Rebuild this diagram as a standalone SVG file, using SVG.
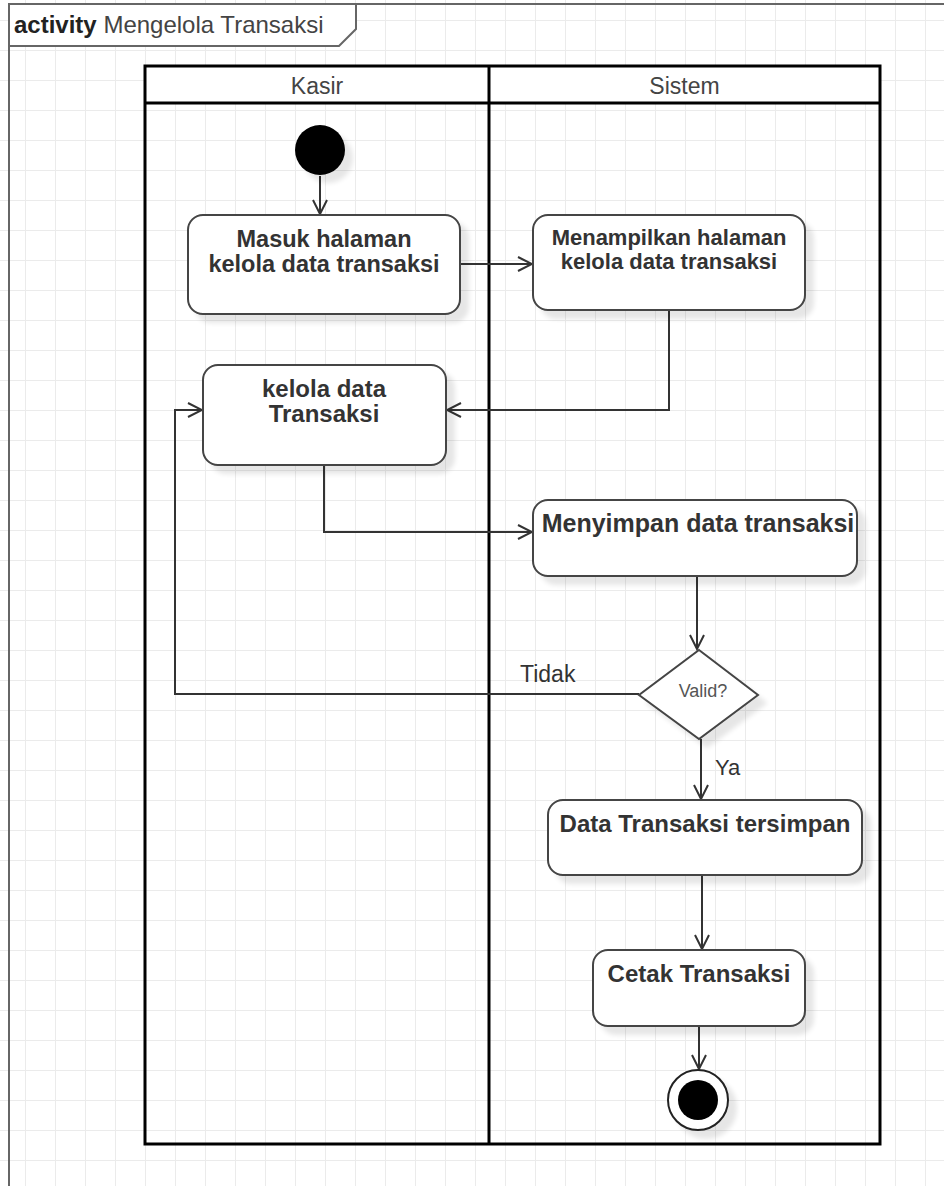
<svg xmlns="http://www.w3.org/2000/svg" width="944" height="1186" viewBox="0 0 944 1186">
  <defs>
    <pattern id="grid" x="25" y="20" width="30" height="30" patternUnits="userSpaceOnUse">
      <path d="M0 0.5 H30 M0.5 0 V30" fill="none" stroke="#ebebeb" stroke-width="1"/>
    </pattern>
    <filter id="shadow" x="-10%" y="-10%" width="130%" height="140%">
      <feGaussianBlur in="SourceAlpha" stdDeviation="2.5"/>
      <feOffset dx="8" dy="8" result="off"/>
      <feComponentTransfer><feFuncA type="linear" slope="0.1"/></feComponentTransfer>
      <feMerge><feMergeNode/><feMergeNode in="SourceGraphic"/></feMerge>
    </filter>
    <marker id="open" viewBox="-16 -10 18 20" refX="0" refY="0" markerWidth="18" markerHeight="20" markerUnits="userSpaceOnUse" orient="auto">
      <path d="M-14,-7 L0,0 L-14,7" fill="none" stroke="#333" stroke-width="2"/>
    </marker>
    <style>
      .lbl { font-family: "Liberation Sans", Arial, sans-serif; fill: #333; }
      .act { font-family: "Liberation Sans", Arial, sans-serif; font-weight: bold; fill: #333; text-anchor: middle; }
      .box { fill: #fff; stroke: #444; stroke-width: 2; }
      .edge { fill: none; stroke: #333; stroke-width: 2; marker-end: url(#open); }
      .lane { fill: none; stroke: #000; stroke-width: 3; }
    </style>
  </defs>

  <!-- canvas with grid -->
  <rect width="944" height="1186" fill="#fff"/>
  <rect width="944" height="1186" fill="url(#grid)"/>

  <!-- activity frame -->
  <g id="frame">
    <path d="M9,1186 V4 H944" fill="none" stroke="#666" stroke-width="2"/>
    <path d="M9,4 H356 V29 L339,46 H9 Z" fill="#fff" stroke="#666" stroke-width="2"/>
    <text x="14" y="33" class="lbl" font-size="24"><tspan font-weight="bold" fill="#222">activity</tspan><tspan fill="#444"> Mengelola Transaksi</tspan></text>
  </g>

  <!-- swimlane pool -->
  <g id="pool">
    <rect x="145" y="66" width="735" height="37" fill="#fff"/>
    <rect x="145" y="66" width="735" height="1078" class="lane"/>
    <path d="M145,103 H880 M489,66 V1144" class="lane"/>
    <text x="317" y="94" class="lbl" font-size="23" text-anchor="middle" style="fill:#444">Kasir</text>
    <text x="684.5" y="94" class="lbl" font-size="23" text-anchor="middle" style="fill:#444">Sistem</text>
  </g>

  <!-- connectors -->
  <g id="connectors">
    <path d="M320,176 V214" class="edge"/>
    <path d="M460,264 H532" class="edge"/>
    <path d="M669,310 V410 H447" class="edge"/>
    <path d="M324,465 V532 H532" class="edge"/>
    <path d="M697,576 V649" class="edge"/>
    <path d="M639,694 H175 V410 H202" class="edge"/>
    <path d="M701,739 V799" class="edge"/>
    <path d="M702,875 V949" class="edge"/>
    <path d="M699,1026 V1069" class="edge"/>
    <text x="520" y="682" class="lbl" font-size="23">Tidak</text>
    <text x="715" y="775" class="lbl" font-size="22">Ya</text>
  </g>

  <!-- nodes -->
  <g id="start">
    <circle cx="320" cy="150" r="25" fill="#000" filter="url(#shadow)"/>
  </g>

  <g id="masuk-halaman">
    <rect x="188" y="215" width="272" height="99" rx="15" class="box" filter="url(#shadow)"/>
    <text class="act" font-size="23.5"><tspan x="324" y="247">Masuk halaman</tspan><tspan x="324" y="272">kelola data transaksi</tspan></text>
  </g>

  <g id="menampilkan-halaman">
    <rect x="533" y="215" width="272" height="95" rx="15" class="box" filter="url(#shadow)"/>
    <text class="act" font-size="22"><tspan x="669" y="245">Menampilkan halaman</tspan><tspan x="669" y="269">kelola data transaksi</tspan></text>
  </g>

  <g id="kelola-data">
    <rect x="203" y="365" width="243" height="100" rx="15" class="box" filter="url(#shadow)"/>
    <text class="act" font-size="24"><tspan x="324" y="397">kelola data</tspan><tspan x="324" y="422">Transaksi</tspan></text>
  </g>

  <g id="menyimpan-data">
    <rect x="533" y="500" width="324" height="76" rx="15" class="box" filter="url(#shadow)"/>
    <text x="698" y="532" class="act" font-size="25">Menyimpan data transaksi</text>
  </g>

  <g id="valid-decision">
    <path d="M699,650 L758,695 L699,739 L639,695 Z" class="box" filter="url(#shadow)"/>
    <text x="703" y="697" class="lbl" font-size="18" text-anchor="middle" style="fill:#555">Valid?</text>
  </g>

  <g id="data-tersimpan">
    <rect x="548" y="800" width="314" height="75" rx="15" class="box" filter="url(#shadow)"/>
    <text x="705" y="832" class="act" font-size="24">Data Transaksi tersimpan</text>
  </g>

  <g id="cetak-transaksi">
    <rect x="593" y="950" width="212" height="76" rx="15" class="box" filter="url(#shadow)"/>
    <text x="699" y="982" class="act" font-size="24">Cetak Transaksi</text>
  </g>

  <g id="end">
    <circle cx="698" cy="1100" r="30" fill="#fff" stroke="#222" stroke-width="2" filter="url(#shadow)"/>
    <circle cx="698" cy="1100" r="20" fill="#000"/>
  </g>
</svg>
